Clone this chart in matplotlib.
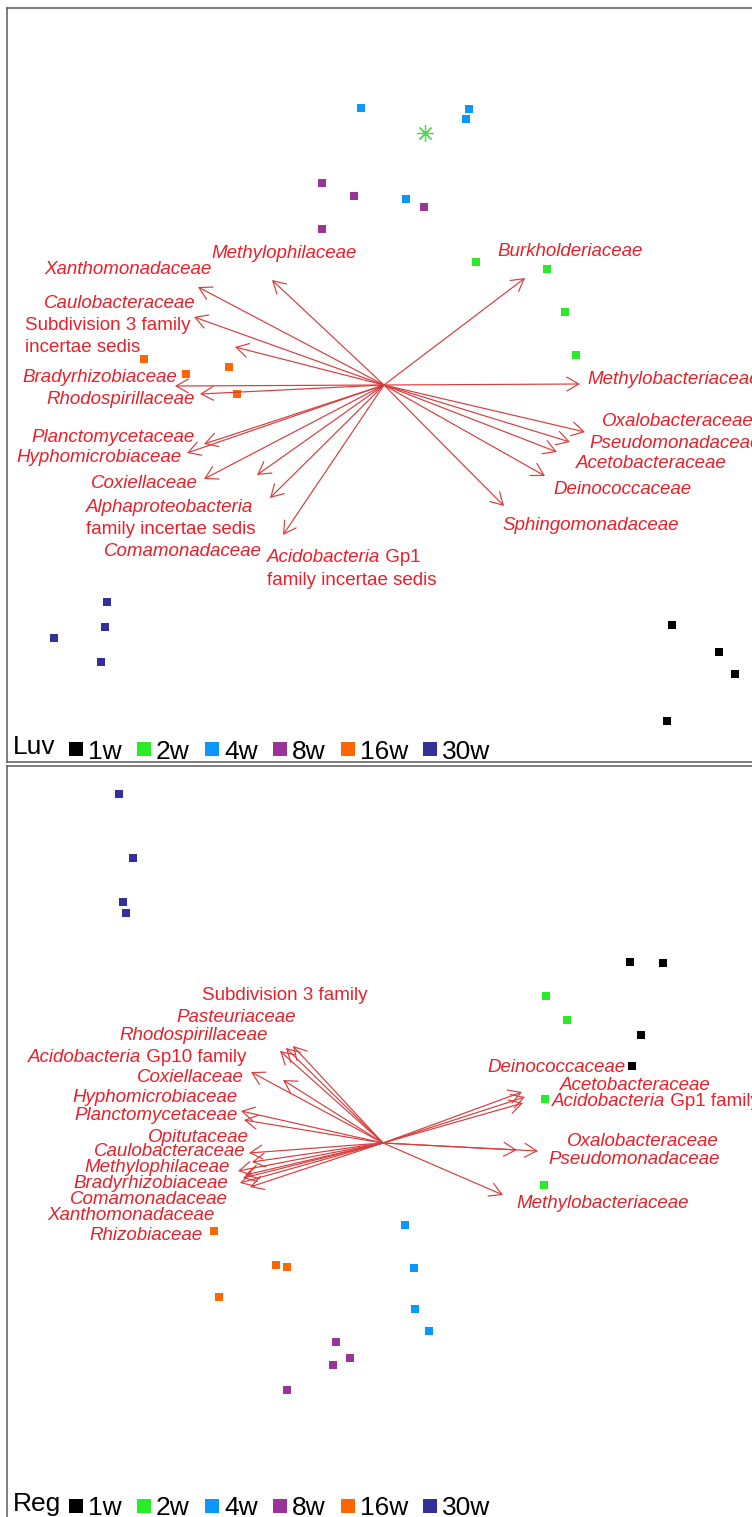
import matplotlib
matplotlib.use("Agg")
import matplotlib.pyplot as plt
from matplotlib.lines import Line2D

plt.rcParams["font.family"] = ["Liberation Sans", "DejaVu Sans"]

# ---------------------------------------------------------------- data
weeks = ["1w", "2w", "4w", "8w", "16w", "30w"]
week_colors = ["#000000", "#27ec27", "#0a98ff", "#9a349a", "#ff6600", "#33309c"]

# Luv: sample scores (x, y) per sampling week
luv_1w = [[2.88, -2.40], [3.35, -2.67], [3.51, -2.89], [2.83, -3.36]]
luv_2w = [[0.92, 1.23], [1.63, 1.16], [1.81, 0.73], [1.92, 0.30]]
luv_4w = [[-0.23, 2.77], [0.85, 2.76], [0.82, 2.66], [0.22, 1.86]]
luv_8w = [[-0.62, 2.02], [-0.30, 1.89], [-0.62, 1.56], [0.40, 1.78]]
luv_16w = [[-2.40, 0.26], [-1.98, 0.11], [-1.55, 0.18], [-1.47, -0.09]]
luv_30w = [[-2.77, -2.17], [-2.79, -2.42], [-3.30, -2.53], [-2.83, -2.77]]
luv_star = [0.41, 2.52]

# Luv: family vectors
luv_families = [
    "Methylophilaceae", "Xanthomonadaceae", "Caulobacteraceae",
    "Subdivision 3 family\nincertae sedis", "Bradyrhizobiaceae",
    "Rhodospirillaceae", "Planctomycetaceae", "Hyphomicrobiaceae",
    "Coxiellaceae", "Alphaproteobacteria\nfamily incertae sedis",
    "Comamonadaceae", "Acidobacteria Gp1\nfamily incertae sedis",
    "Burkholderiaceae", "Methylobacteriaceae", "Oxalobacteraceae",
    "Pseudomonadaceae", "Acetobacteraceae", "Deinococcaceae",
    "Sphingomonadaceae",
]
luv_vec_x = [-1.12, -1.86, -1.90, -1.49, -2.09, -1.84, -1.80, -1.97, -1.80,
             -1.27, -1.14, -1.01, 1.41, 1.96, 2.01, 1.86, 1.73, 1.61, 1.20]
luv_vec_y = [1.05, 0.98, 0.68, 0.38, -0.01, -0.09, -0.59, -0.68, -0.94,
             -0.90, -1.13, -1.50, 1.07, 0.01, -0.47, -0.57, -0.67, -0.91, -1.21]

# Reg: sample scores (x, y) per sampling week
reg_1w = [[2.47, 1.81], [2.80, 1.80], [2.58, 1.08], [2.49, 0.77]]
reg_2w = [[1.63, 1.47], [1.84, 1.23], [1.62, 0.44], [1.61, -0.42]]
reg_4w = [[0.22, -0.82], [0.31, -1.25], [0.32, -1.66], [0.46, -1.88]]
reg_8w = [[-0.47, -1.99], [-0.33, -2.15], [-0.50, -2.22], [-0.96, -2.47]]
reg_16w = [[-1.69, -0.88], [-1.07, -1.22], [-0.96, -1.24], [-1.64, -1.54]]
reg_30w = [[-2.64, 3.49], [-2.50, 2.85], [-2.60, 2.41], [-2.57, 2.30]]

# Reg: family vectors
reg_families = [
    "Subdivision 3 family", "Pasteuriaceae", "Rhodospirillaceae",
    "Acidobacteria Gp10 family", "Coxiellaceae", "Hyphomicrobiaceae",
    "Planctomycetaceae", "Opitutaceae", "Caulobacteraceae",
    "Methylophilaceae", "Bradyrhizobiaceae", "Comamonadaceae",
    "Xanthomonadaceae", "Rhizobiaceae", "Deinococcaceae",
    "Acetobacteraceae", "Acidobacteria Gp1 family", "Oxalobacteraceae",
    "Pseudomonadaceae", "Methylobacteriaceae",
]
reg_vec_x = [-0.90, -0.97, -1.03, -1.32, -1.00, -1.42, -1.39, -1.31, -1.34,
             -1.45, -1.43, -1.33, -1.38, -1.40, 1.39, 1.42, 1.40, 1.55, 1.34,
             1.20]
reg_vec_y = [0.97, 0.95, 0.92, 0.71, 0.63, 0.32, 0.23, -0.19, -0.10, -0.28,
             -0.40, -0.44, -0.32, -0.35, 0.51, 0.46, 0.40, -0.08, -0.07,
             -0.52]

# ------------------------------------------------------- label layout
# (x, y, horizontal alignment) of each family label
luv_label_pos = [
    (-1.73, 1.31, "left"), (-1.72, 1.15, "right"), (-1.88, 0.82, "right"),
    (-3.59, 0.60, "left"), (-2.07, 0.07, "right"), (-1.89, -0.15, "right"),
    (-1.89, -0.52, "right"), (-2.02, -0.72, "right"), (-1.86, -0.98, "right"),
    (-2.98, -1.22, "left"), (-1.22, -1.66, "right"), (-1.17, -1.73, "left"),
    (1.13, 1.33, "left"), (2.03, 0.05, "left"), (2.18, -0.37, "left"),
    (2.05, -0.58, "left"), (1.92, -0.78, "left"), (1.69, -1.04, "left"),
    (1.18, -1.41, "left"),
]
reg_label_pos = [
    (-1.81, 1.47, "left"), (-0.87, 1.26, "right"), (-1.15, 1.08, "right"),
    (-3.55, 0.85, "left"), (-1.39, 0.65, "right"), (-1.45, 0.45, "right"),
    (-1.45, 0.27, "right"), (-1.34, 0.05, "right"), (-1.37, -0.09, "right"),
    (-1.53, -0.25, "right"), (-1.55, -0.41, "right"), (-1.55, -0.56, "right"),
    (-1.68, -0.72, "right"), (-1.80, -0.92, "right"), (1.04, 0.76, "left"),
    (1.77, 0.58, "left"), (1.69, 0.41, "left"), (1.84, 0.01, "left"),
    (1.65, -0.16, "left"), (1.33, -0.60, "left"),
]

LABEL_RED = "#e8202a"
ARROW_RED = "#d83c3c"
LABEL_SIZE = 13.5
LINE_GAP = 0.225


def is_taxon(word):
    return word.endswith("aceae") or word.endswith("bacteria")


def draw_label(ax, x, y, ha, text):
    for i, line in enumerate(text.split("\n")):
        # group consecutive words of equal style
        segs = []
        for w in line.split(" "):
            st = "italic" if is_taxon(w) else "normal"
            if segs and segs[-1][1] == st:
                segs[-1][0] += " " + w
            else:
                segs.append([w, st])
        yy = y - i * LINE_GAP
        prev = ax.text(x, yy, segs[0][0], ha=ha, va="center", style=segs[0][1],
                       color=LABEL_RED, fontsize=LABEL_SIZE)
        for s, st in segs[1:]:
            prev = ax.annotate(" " + s, xy=(1, 0), xycoords=prev, ha="left",
                               va="bottom", style=st, color=LABEL_RED,
                               fontsize=LABEL_SIZE)


def draw_panel(ax, site, groups, families, vx, vy, label_pos, xlim, ylim,
               star=None):
    for pts, c in zip(groups, week_colors):
        ax.plot([p[0] for p in pts], [p[1] for p in pts], ls="none",
                marker="s", ms=5.2, mew=0, color=c, zorder=3)
    if star is not None:
        ax.plot([star[0]], [star[1]], ls="none", marker=(8, 2, 0), ms=12,
                mew=0.9, color="#4bdc4b", zorder=3)
    for x, y in zip(vx, vy):
        ax.annotate("", xy=(x, y), xytext=(0, 0),
                    arrowprops=dict(arrowstyle="->,head_length=0.87,head_width=0.5",
                                    color=ARROW_RED, lw=0.85, shrinkA=0,
                                    shrinkB=0, mutation_scale=10))
    for name, (lx, ly, ha) in zip(families, label_pos):
        draw_label(ax, lx, ly, ha, name)

    ax.set_xlim(*xlim)
    ax.set_ylim(*ylim)
    ax.set_xticks([])
    ax.set_yticks([])
    for sp in ax.spines.values():
        sp.set_color("#5a5a5a")
        sp.set_linewidth(1.1)

    handles = [Line2D([], [], ls="none", marker="s", ms=9.5, mew=0, color=c)
               for c in week_colors]
    return handles


W, H = 752, 1517
fig = plt.figure(figsize=(W / 100, H / 100), dpi=100)

# panel rectangles in pixel units: left, top, right, bottom
ax1 = fig.add_axes([7 / W, 1 - 762 / H, 753 / W, 754 / H])
ax2 = fig.add_axes([7 / W, 1 - 1525 / H, 753 / W, 759 / H])

luv_groups = [luv_1w, luv_2w, luv_4w, luv_8w, luv_16w, luv_30w]
reg_groups = [reg_1w, reg_2w, reg_4w, reg_8w, reg_16w, reg_30w]

h1 = draw_panel(ax1, "Luv", luv_groups, luv_families, luv_vec_x, luv_vec_y,
                luv_label_pos, (-3.77, 3.76), (-3.77, 3.77), star=luv_star)
h2 = draw_panel(ax2, "Reg", reg_groups, reg_families, reg_vec_x, reg_vec_y,
                reg_label_pos, (-3.76, 3.77), (-3.82, 3.77))

LEG_SIZE = 19
for ax, site, h, ybase in [(ax1, "Luv", h1, 0.010), (ax2, "Reg", h2, 0.018)]:
    ax.text(0.008, ybase, site, transform=ax.transAxes, ha="left",
            va="baseline", fontsize=LEG_SIZE, color="black")
    leg = ax.legend(h, weeks, loc="lower left",
                    bbox_to_anchor=(0.083, ybase - 0.012), ncol=6,
                    frameon=False, fontsize=LEG_SIZE, borderpad=0,
                    borderaxespad=0, handlelength=0.5, handletextpad=0.2,
                    columnspacing=0.6)

fig.savefig("out.png", dpi=100)
